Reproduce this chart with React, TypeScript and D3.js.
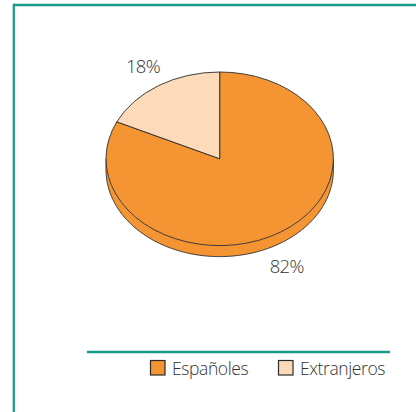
import React from 'react';
import * as d3 from 'd3';

const categories = ['Españoles', 'Extranjeros'];
const values = [82, 18];
const labels = ['82%', '18%'];
const colors = ['#F59432', '#FDDBBA'];

const W = 416;
const H = 412;
const cx = 219.7;
const cy = 158.8;
const rx = 113.7;
const ry = 86.8;
const depth = 11;
const stroke = '#2b2b2b';
const teal = '#17998A';
const font = "'Open Sans', 'DejaVu Sans', sans-serif";

// ajuste fino de etiquetas respecto al centro
const labelPos = [
  { k: 1.1, dy: 14 },
  { k: 1.26, dy: 0 },
];

const App = () => {
  const pie = d3
    .pie<number>()
    .sort(null)
    .startAngle(0)
    .endAngle(2 * Math.PI)
    .value((d) => d);
  const arcs = pie(values);
  const arc = d3.arc<d3.PieArcDatum<number>>().innerRadius(0).outerRadius(rx);
  const sy = ry / rx;

  // lateral del pastel (mitad inferior de la elipse)
  const bottomArc = (yy: number, reverse: boolean) => {
    const pts = d3.range(0, 181).map((i) => {
      const a = (i / 180) * Math.PI;
      return [cx - rx * Math.cos(a), yy + ry * Math.sin(a)] as [number, number];
    });
    return reverse ? pts.reverse() : pts;
  };
  const sidePath = d3.line()([...bottomArc(cy, false), ...bottomArc(cy + depth, true)]) + 'Z';
  const rimPath = d3.line()(bottomArc(cy + depth, false));

  const legendX = [150, 278];

  return (
    <svg
      width={W}
      height={H}
      style={{ position: 'absolute', left: 0, top: 0, background: '#fff' }}
    >
      <line x1={13} y1={5} x2={W} y2={5} stroke={teal} strokeWidth={2.6} />
      <line x1={13.8} y1={3.7} x2={13.8} y2={H} stroke={teal} strokeWidth={2.2} />

      <path d={sidePath} fill={colors[0]} stroke="none" />
      <path d={rimPath || ''} fill="none" stroke={stroke} strokeWidth={0.9} />
      <line x1={cx - rx} y1={cy} x2={cx - rx} y2={cy + depth} stroke={stroke} strokeWidth={0.9} />
      <line x1={cx + rx} y1={cy} x2={cx + rx} y2={cy + depth} stroke={stroke} strokeWidth={0.9} />

      <g transform={`translate(${cx},${cy}) scale(1,${sy})`}>
        {arcs.map((a, i) => (
          <path
            key={i}
            d={arc(a) || ''}
            fill={colors[i]}
            stroke={stroke}
            strokeWidth={0.9}
            vectorEffect="non-scaling-stroke"
          />
        ))}
      </g>

      {arcs.map((a, i) => {
        const mid = (a.startAngle + a.endAngle) / 2;
        const p = labelPos[i];
        const x = cx + Math.sin(mid) * rx * p.k;
        const y = cy - Math.cos(mid) * ry * 1.27 + p.dy;
        return (
          <text
            key={i}
            x={x}
            y={y}
            textAnchor="middle"
            dominantBaseline="central"
            fontFamily={font}
            fontSize={18.5}
            fontWeight={300}
            letterSpacing={-0.7}
            fill="#333"
          >
            {labels[i]}
          </text>
        );
      })}

      <line x1={87} y1={352} x2={390} y2={352} stroke={teal} strokeWidth={2.6} />
      {categories.map((c, i) => (
        <g key={c}>
          <rect
            x={legendX[i] + 0.5}
            y={360.5}
            width={14.5}
            height={14.5}
            fill={colors[i]}
            stroke={stroke}
            strokeWidth={1.2}
          />
          <text
            x={legendX[i] + 22}
            y={375}
            fontFamily={font}
            fontSize={17.5}
            fontWeight={300}
            letterSpacing={-0.4}
            fill="#333"
          >
            {c}
          </text>
        </g>
      ))}
    </svg>
  );
};

export default App;
